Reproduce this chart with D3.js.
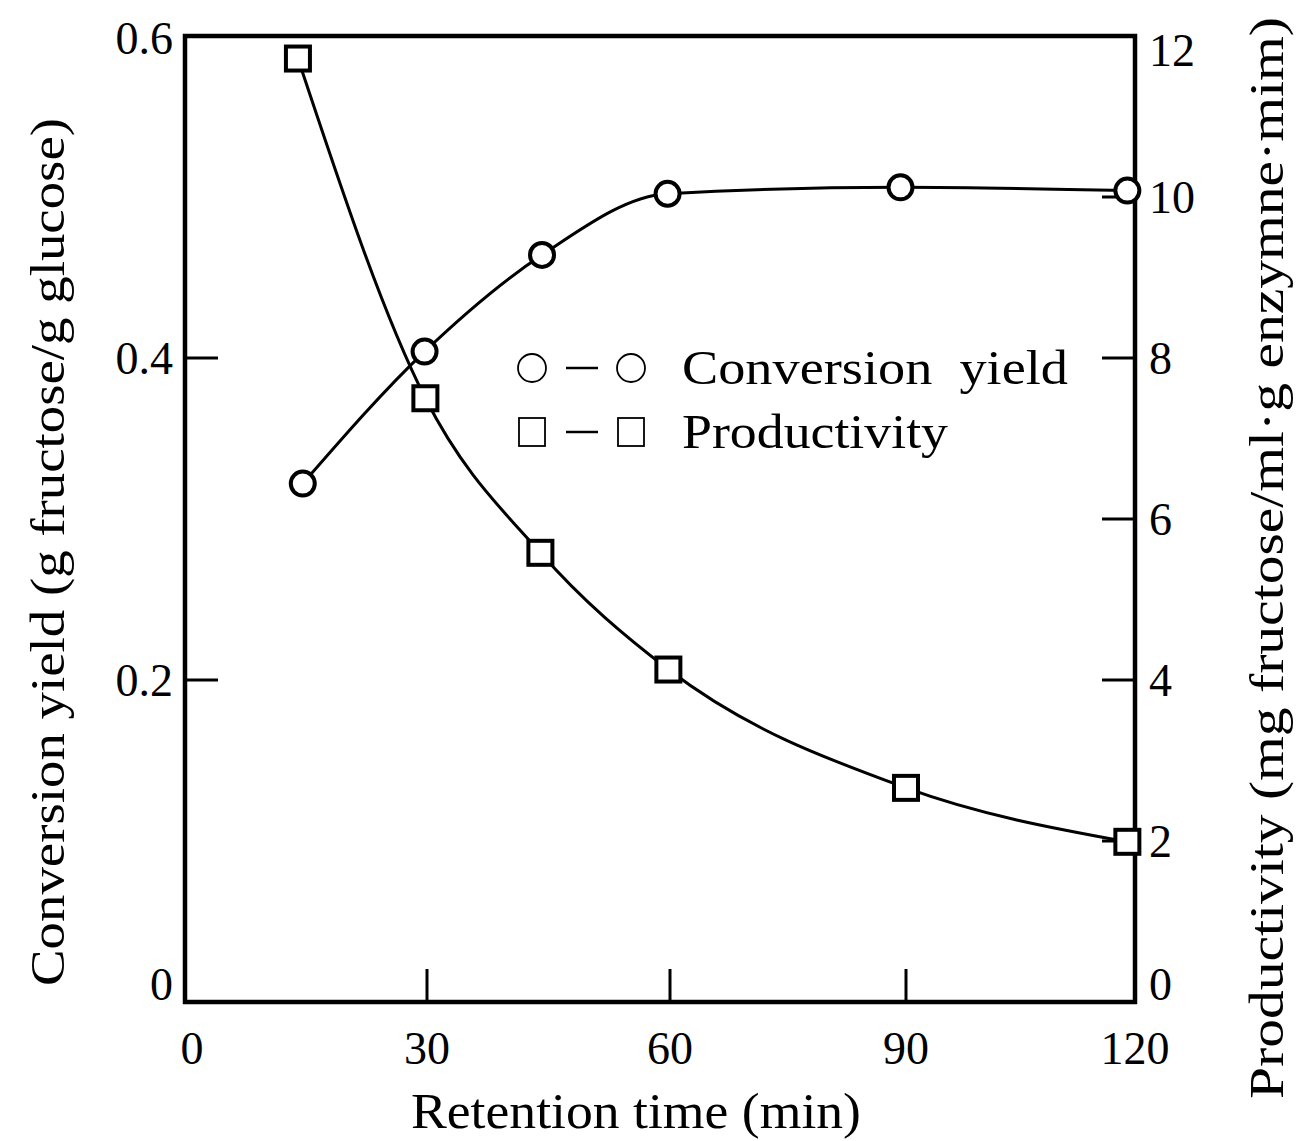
<!DOCTYPE html>
<html>
<head>
<meta charset="utf-8">
<script src="https://cdn.jsdelivr.net/npm/d3@7.9.0/dist/d3.min.js"></script>
<style>
  body { margin: 0; background: #fff; }
  svg text { font-family: "Liberation Serif", "DejaVu Serif", serif; fill: #000; }
</style>
</head>
<body>
<svg id="chart" width="1303" height="1141"></svg>
<script>
// retention time (min)
const yieldTime = [14.6, 29.7, 44.2, 59.7, 89.3, 119];
const yieldVals = [0.322, 0.404, 0.464, 0.502, 0.506, 0.504];

const prodTime = [14, 29.8, 44, 59.8, 90, 119];
const prodVals = [11.72, 7.5, 5.58, 4.13, 2.66, 1.99];

const xTicks = [0, 30, 60, 90, 120];
const leftTicks = [0, 0.2, 0.4, 0.6];
const leftLabels = ['0', '0.2', '0.4', '0.6'];
const rightTicks = [0, 2, 4, 6, 8, 10, 12];

const svg = d3.select('#chart');

// the printed axis is not quite even, so map each tick to where it sits
const x = d3.scaleLinear().domain(xTicks).range([185, 427, 670, 906, 1135]);
const yL = d3.scaleLinear().domain([0, 0.6]).range([1002, 36]);
const yR = d3.scaleLinear().domain([0, 12]).range([1002, 36]);

// frame
svg.append('rect')
  .attr('x', x(0)).attr('y', yL(0.6))
  .attr('width', x(120) - x(0)).attr('height', yL(0) - yL(0.6))
  .attr('fill', 'none').attr('stroke', '#000').attr('stroke-width', 4.5);

// inward ticks
const tickLen = 33;
svg.append('g').selectAll('line').data(xTicks.slice(1, -1)).join('line')
  .attr('x1', d => x(d)).attr('x2', d => x(d))
  .attr('y1', yL(0)).attr('y2', yL(0) - tickLen)
  .attr('stroke', '#000').attr('stroke-width', 3);
svg.append('g').selectAll('line').data(leftTicks.slice(1, -1)).join('line')
  .attr('x1', x(0)).attr('x2', x(0) + tickLen)
  .attr('y1', d => yL(d)).attr('y2', d => yL(d))
  .attr('stroke', '#000').attr('stroke-width', 3);
svg.append('g').selectAll('line').data(rightTicks.slice(1, -1)).join('line')
  .attr('x1', x(120)).attr('x2', x(120) - tickLen)
  .attr('y1', d => yR(d)).attr('y2', d => yR(d))
  .attr('stroke', '#000').attr('stroke-width', 3);

// tick labels
svg.append('g').selectAll('text').data(xTicks).join('text')
  .attr('x', d => x(d) + (d === 0 ? 7 : 0)).attr('y', yL(0) + 62)
  .attr('text-anchor', 'middle').attr('font-size', 46)
  .text(d => d);
svg.append('g').selectAll('text').data(leftTicks).join('text')
  .attr('x', x(0) - 12)
  .attr('y', d => yL(d) + (d === 0 ? -2 : d === 0.6 ? 18 : 16))
  .attr('text-anchor', 'end').attr('font-size', 46)
  .text((d, i) => leftLabels[i]);
svg.append('g').selectAll('text').data(rightTicks).join('text')
  .attr('x', x(120) + 14)
  .attr('y', d => yR(d) + (d === 0 ? -2 : d === 12 ? 30 : 16))
  .attr('text-anchor', 'start').attr('font-size', 46)
  .text(d => d);

// axis titles
svg.append('text')
  .attr('x', 636).attr('y', 1128)
  .attr('text-anchor', 'middle').attr('font-size', 50)
  .attr('textLength', 450).attr('lengthAdjust', 'spacingAndGlyphs')
  .text('Retention time (min)');
svg.append('text')
  .attr('transform', 'translate(64,552) rotate(-90)')
  .attr('text-anchor', 'middle').attr('font-size', 48)
  .attr('textLength', 868).attr('lengthAdjust', 'spacingAndGlyphs')
  .text('Conversion yield (g fructose/g glucose)');
svg.append('text')
  .attr('transform', 'translate(1283,558) rotate(-90)')
  .attr('text-anchor', 'middle').attr('font-size', 48)
  .attr('textLength', 1082).attr('lengthAdjust', 'spacingAndGlyphs')
  .text('Productivity (mg fructose/ml\u00b7g enzymne\u00b7mim)');

// curves
const yieldPts = yieldTime.map((t, i) => [x(t), yL(yieldVals[i])]);
const prodPts = prodTime.map((t, i) => [x(t), yR(prodVals[i])]);
const line = d3.line().curve(d3.curveMonotoneX);

svg.append('path').attr('d', line(yieldPts))
  .attr('fill', 'none').attr('stroke', '#000').attr('stroke-width', 3);
svg.append('path').attr('d', line(prodPts))
  .attr('fill', 'none').attr('stroke', '#000').attr('stroke-width', 3);

// markers
svg.append('g').selectAll('circle').data(yieldPts).join('circle')
  .attr('cx', d => d[0]).attr('cy', d => d[1]).attr('r', 12)
  .attr('fill', '#fff').attr('stroke', '#000').attr('stroke-width', 4);
const sq = 24;
svg.append('g').selectAll('rect').data(prodPts).join('rect')
  .attr('x', d => d[0] - sq / 2).attr('y', d => d[1] - sq / 2)
  .attr('width', sq).attr('height', sq)
  .attr('fill', '#fff').attr('stroke', '#000').attr('stroke-width', 4);

// legend
const lg = svg.append('g');
const legendRows = [
  { y: 368, shape: 'circle', label: 'Conversion  yield', len: 386 },
  { y: 432, shape: 'square', label: 'Productivity', len: 266 }
];
legendRows.forEach(r => {
  [532, 631].forEach(cx => {
    if (r.shape === 'circle') {
      lg.append('circle').attr('cx', cx).attr('cy', r.y).attr('r', 14)
        .attr('fill', 'none').attr('stroke', '#000').attr('stroke-width', 1.8);
    } else {
      lg.append('rect').attr('x', cx - 13).attr('y', r.y - 14)
        .attr('width', 26).attr('height', 28)
        .attr('fill', 'none').attr('stroke', '#000').attr('stroke-width', 1.8);
    }
  });
  lg.append('line').attr('x1', 566).attr('x2', 598)
    .attr('y1', r.y).attr('y2', r.y)
    .attr('stroke', '#000').attr('stroke-width', 2.5);
  lg.append('text').attr('x', 682).attr('y', r.y + 16)
    .attr('font-size', 48)
    .attr('textLength', r.len).attr('lengthAdjust', 'spacingAndGlyphs')
    .style('white-space', 'pre')
    .text(r.label);
});
</script>
</body>
</html>
